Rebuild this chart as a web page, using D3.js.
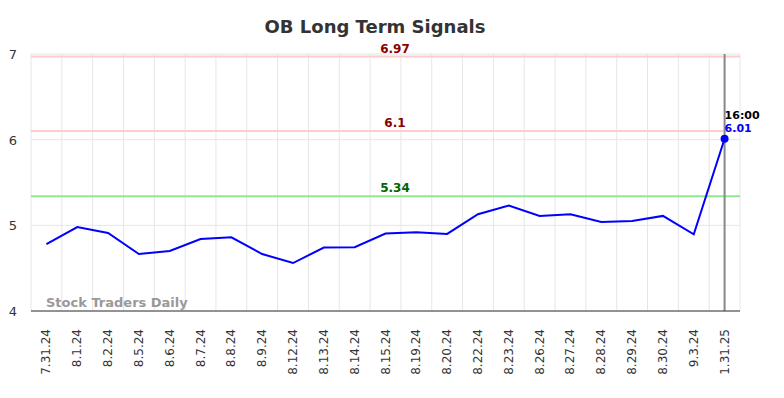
<!DOCTYPE html>
<html>
<head>
<meta charset="utf-8">
<script src="https://cdn.jsdelivr.net/npm/d3@7"></script>
<style>
  body { margin: 0; background: #fff; }
  svg { font-family: "DejaVu Sans", sans-serif; }
</style>
</head>
<body>
<svg width="784" height="398"></svg>
<script>
// tick labels along the bottom
const dates = ["7.31.24", "8.1.24", "8.2.24", "8.5.24", "8.6.24", "8.7.24", "8.8.24",
  "8.9.24", "8.12.24", "8.13.24", "8.14.24", "8.15.24", "8.19.24", "8.20.24",
  "8.22.24", "8.23.24", "8.26.24", "8.27.24", "8.28.24", "8.29.24", "8.30.24",
  "9.3.24", "1.31.25"];

// closing prices
const prices = [4.78, 4.98, 4.91, 4.665, 4.70, 4.84, 4.86, 4.665, 4.56, 4.74, 4.745,
  4.905, 4.92, 4.90, 5.13, 5.23, 5.11, 5.13, 5.04, 5.05, 5.11, 4.895, 6.01];

// signal levels
const levels = [6.97, 6.1, 5.34];
const levelKinds = ["resist", "resist", "support"];

const yTicks = [4, 5, 6, 7];

let svg = d3.select("svg");
const margin = { top: 54, right: 44, bottom: 87, left: 31 };
let width = +svg.attr("width");
let height = +svg.attr("height");

let x = d3.scalePoint()
  .domain(dates)
  .range([margin.left, width - margin.right])
  .padding(0.5);

let y = d3.scaleLinear()
  .domain([4, 7])
  .range([height - margin.bottom, margin.top]);

const step = x.step();

// title
svg.append("text")
  .attr("x", 375)
  .attr("y", 33)
  .attr("text-anchor", "middle")
  .attr("font-size", 18)
  .attr("font-weight", "bold")
  .attr("fill", "#333")
  .text("OB Long Term Signals");

// grid
let grid = svg.append("g").attr("class", "grid");
grid.selectAll("line.v")
  .data(d3.range(dates.length + 1))
  .enter()
  .append("line")
  .attr("x1", (d) => margin.left + d * step)
  .attr("x2", (d) => margin.left + d * step)
  .attr("y1", margin.top)
  .attr("y2", height - margin.bottom)
  .attr("stroke", "#e6e6e6")
  .attr("stroke-width", 1);

grid.selectAll("line.h")
  .data(yTicks)
  .enter()
  .append("line")
  .attr("x1", margin.left)
  .attr("x2", width - margin.right)
  .attr("y1", (d) => y(d))
  .attr("y2", (d) => y(d))
  .attr("stroke", "#e6e6e6")
  .attr("stroke-width", 1);

// y tick labels
svg.append("g")
  .selectAll("text")
  .data(yTicks)
  .enter()
  .append("text")
  .attr("x", 13)
  .attr("y", (d) => y(d) + 5)
  .attr("text-anchor", "middle")
  .attr("font-size", 13)
  .attr("fill", "#333")
  .text((d) => d);

// level lines
function levelColour(k) {
  return k === "support" ? "#90e890" : "#ffcccc";
}
function levelTextColour(k) {
  return k === "support" ? "#006600" : "#8b0000";
}

svg.append("g")
  .selectAll("line")
  .data(levels)
  .enter()
  .append("line")
  .attr("x1", margin.left)
  .attr("x2", width - margin.right)
  .attr("y1", (d) => y(d))
  .attr("y2", (d) => y(d))
  .attr("stroke", (d, i) => levelColour(levelKinds[i]))
  .attr("stroke-width", 2);

svg.append("g")
  .selectAll("text")
  .data(levels)
  .enter()
  .append("text")
  .attr("x", 395)
  .attr("y", (d) => y(d) - 4)
  .attr("text-anchor", "middle")
  .attr("font-size", 12)
  .attr("font-weight", "bold")
  .attr("fill", (d, i) => levelTextColour(levelKinds[i]))
  .text((d) => d);

// watermark
svg.append("text")
  .attr("x", 46)
  .attr("y", 307)
  .attr("font-size", 13)
  .attr("font-weight", "bold")
  .attr("fill", "#999")
  .text("Stock Traders Daily");

// marker for latest date
const last = dates.length - 1;
svg.append("line")
  .attr("x1", x(dates[last]))
  .attr("x2", x(dates[last]))
  .attr("y1", margin.top)
  .attr("y2", height - margin.bottom)
  .attr("stroke", "#888")
  .attr("stroke-width", 2);

// price line
let line = d3.line()
  .x((d, i) => x(dates[i]))
  .y((d) => y(d));

svg.append("path")
  .datum(prices)
  .attr("fill", "none")
  .attr("stroke", "#0000ff")
  .attr("stroke-width", 2)
  .attr("d", line);

svg.append("circle")
  .attr("cx", x(dates[last]))
  .attr("cy", y(prices[last]))
  .attr("r", 4)
  .attr("fill", "#0000ff");

svg.append("text")
  .attr("x", x(dates[last]))
  .attr("y", y(prices[last]) - 20)
  .attr("font-size", 11)
  .attr("font-weight", "bold")
  .attr("fill", "#000")
  .text("16:00");

svg.append("text")
  .attr("x", x(dates[last]))
  .attr("y", y(prices[last]) - 7)
  .attr("font-size", 11)
  .attr("font-weight", "bold")
  .attr("fill", "#0000ff")
  .text(prices[last]);

// x axis line
svg.append("line")
  .attr("x1", margin.left)
  .attr("x2", width - margin.right)
  .attr("y1", y(4))
  .attr("y2", y(4))
  .attr("stroke", "#333")
  .attr("stroke-width", 1);

// x tick labels
svg.append("g")
  .selectAll("text")
  .data(dates)
  .enter()
  .append("text")
  .attr("transform", (d) => `translate(${x(d) + 4},${y(4) + 18}) rotate(-90)`)
  .attr("text-anchor", "end")
  .attr("font-size", 12)
  .attr("fill", "#333")
  .text((d) => d);
</script>
</body>
</html>
